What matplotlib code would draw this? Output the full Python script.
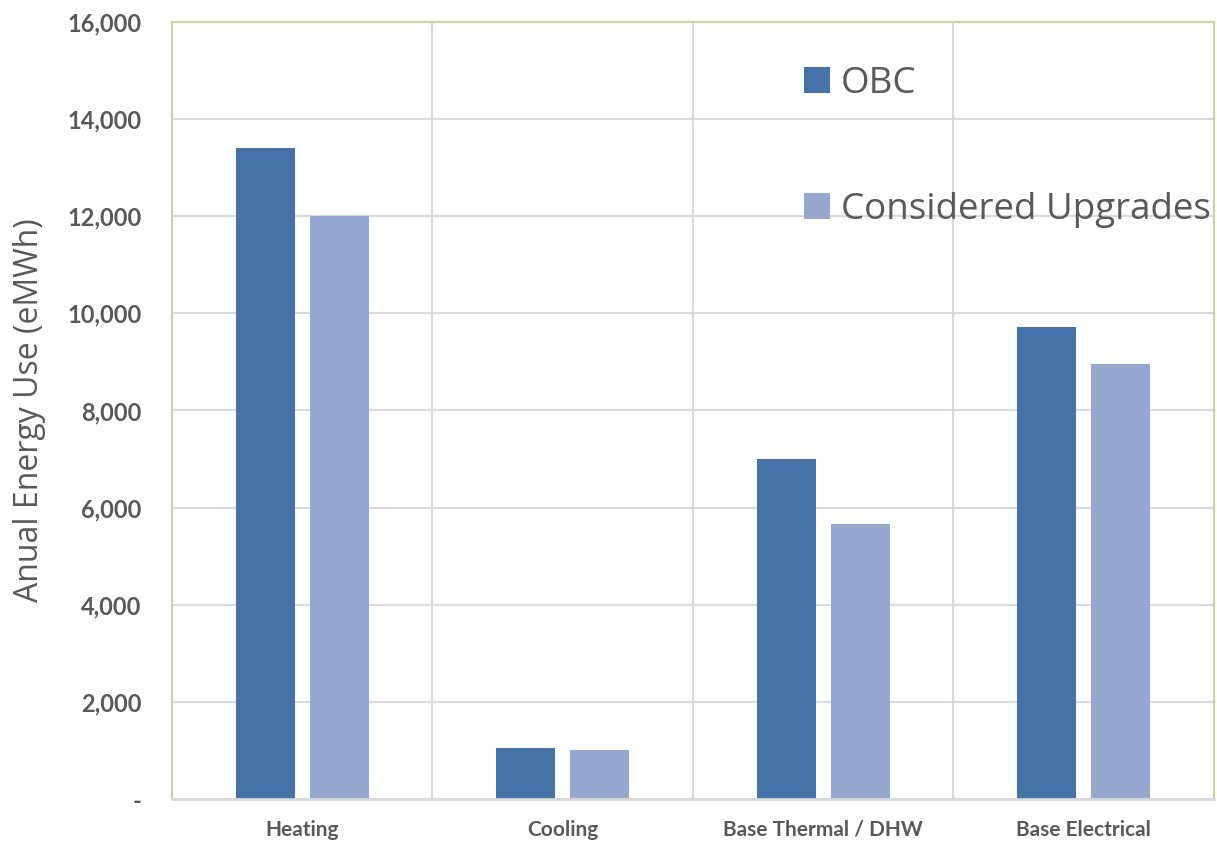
import numpy as np
import matplotlib
matplotlib.use('Agg')
import matplotlib.pyplot as plt
from matplotlib.ticker import FuncFormatter, FixedLocator

categories = ["Heating", "Cooling", "Base Thermal / DHW", "Base Electrical"]
obc = [13400, 1050, 7000, 9720]
upgrades = [12000, 1010, 5670, 8960]
series_names = ["OBC", "Considered Upgrades"]
y_ticks = [0, 2000, 4000, 6000, 8000, 10000, 12000, 14000, 16000]

grey_text = '#595959'
grid_col = '#d9d9d9'
green_col = '#c3d69b'

fig = plt.figure(figsize=(12.17, 8.44), dpi=100)
ax = fig.add_axes([0.1413, 0.0533, 0.8562, 0.9207])

x = np.arange(len(categories))
w = 0.227
off = 0.142
ax.bar(x - off, obc, w, color='#4673a7', zorder=3, label=series_names[0])
ax.bar(x + off, upgrades, w, color='#95a9d0', zorder=3, label=series_names[1])

ax.set_xlim(-0.5, 3.5)
ax.set_ylim(0, 16000)
ax.set_yticks(y_ticks)
ax.yaxis.set_major_formatter(FuncFormatter(lambda v, p: '-' if v == 0 else f'{int(v):,}'))
ax.set_xticks(x)
ax.set_xticklabels(categories)
ax.xaxis.set_minor_locator(FixedLocator([0.5, 1.5, 2.5]))

# horizontal grid on majors, vertical separators between categories
ax.grid(axis='y', which='major', color=grid_col, lw=1.5, zorder=1)
ax.grid(axis='x', which='minor', color=grid_col, lw=1.5, zorder=1)
ax.grid(axis='x', which='major', visible=False)

ax.tick_params(axis='both', which='both', length=0)
ax.tick_params(axis='y', pad=22, labelsize=17, labelcolor=grey_text)
ax.tick_params(axis='x', pad=15, labelsize=15, labelcolor=grey_text)
for lbl in ax.get_yticklabels() + ax.get_xticklabels():
    lbl.set_fontweight('bold')
    lbl.set_fontfamily('Lato')

for s in ['left', 'top', 'right']:
    ax.spines[s].set_color(green_col)
    ax.spines[s].set_linewidth(1.5)
ax.spines['bottom'].set_color(grid_col)
ax.spines['bottom'].set_linewidth(2)
ax.spines['bottom'].set_zorder(4)

ax.set_ylabel("Anual Energy Use (eMWh)", fontsize=23, color=grey_text,
              fontfamily='Open Sans', labelpad=15)

ax.legend(loc='upper left', bbox_to_anchor=(0.6065, 0.943), frameon=False,
          prop={'family': 'Open Sans', 'size': 26.5}, labelcolor=grey_text,
          handlelength=0.7, handleheight=0.7, handletextpad=0.3,
          labelspacing=2.44, borderpad=0, borderaxespad=0)

plt.savefig('out.png', dpi=100)
